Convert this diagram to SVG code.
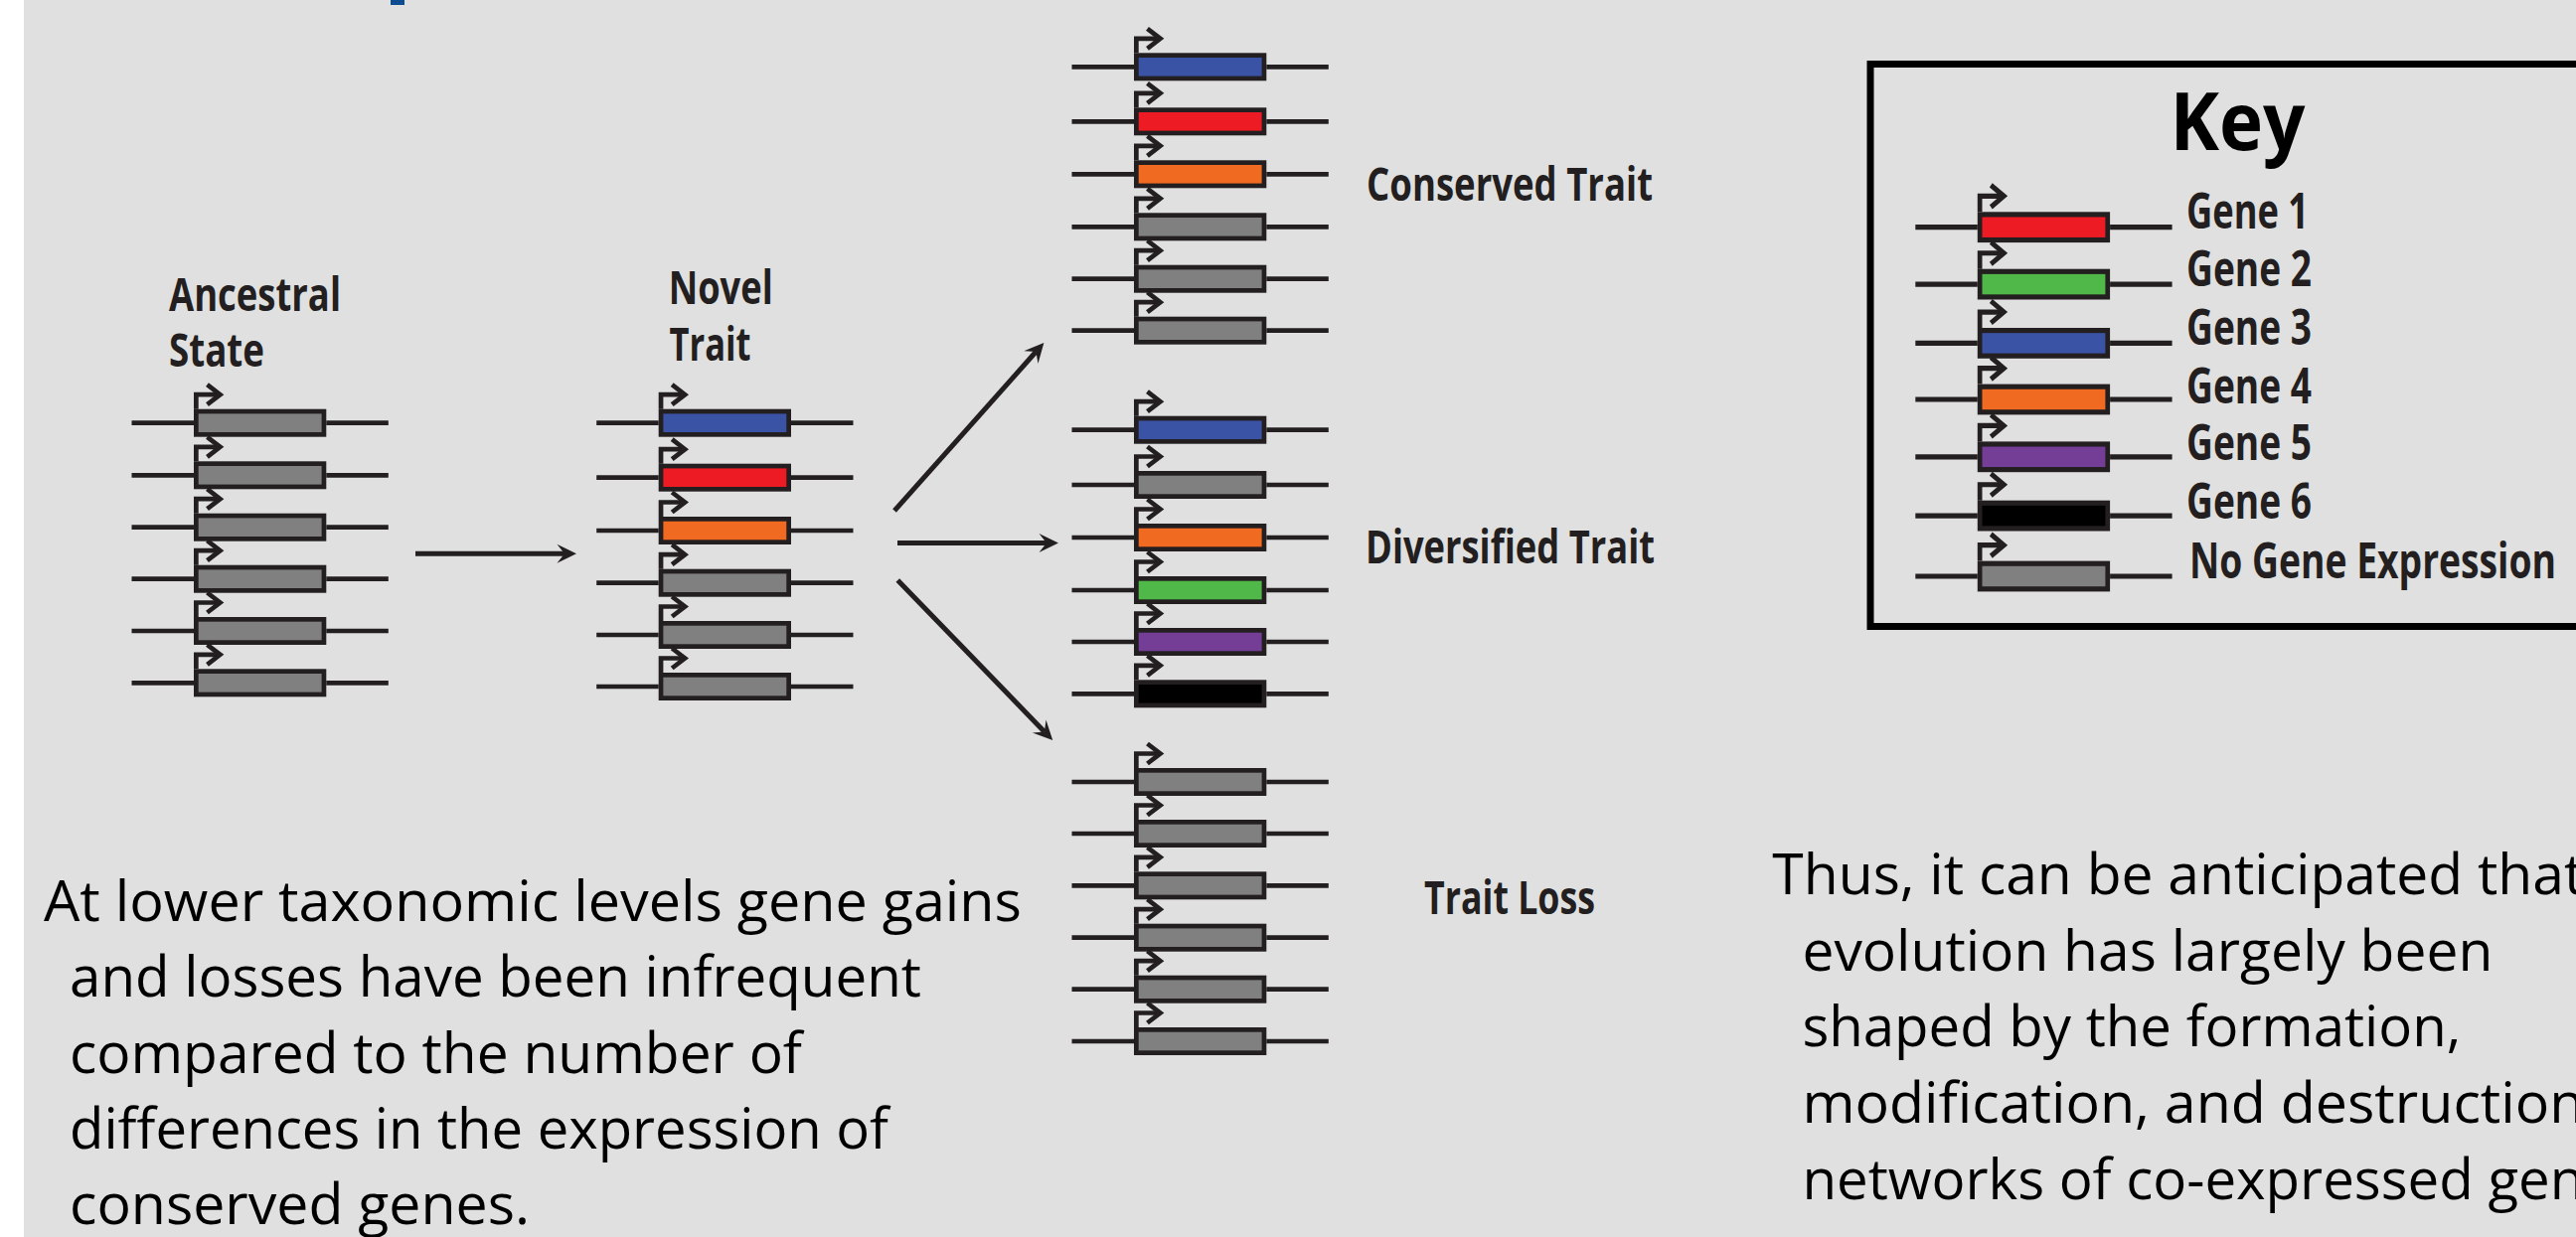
<svg xmlns="http://www.w3.org/2000/svg" xmlns:xlink="http://www.w3.org/1999/xlink" width="2592" height="1245" viewBox="0 0 2592 1245">
  <style>
    .dna { stroke: #231f20; stroke-width: 4.7; fill: none; stroke-linejoin: miter; stroke-linecap: butt; }
    .exon { stroke: #231f20; stroke-width: 4.7; }
    .conn { stroke: #231f20; stroke-width: 5; fill: none; }
    .lbl { font-family: "Open Sans", "Liberation Sans", sans-serif; font-weight: 700; font-size: 46px; fill: #231f20; }
    .keylbl { font-family: "Open Sans", "Liberation Sans", sans-serif; font-weight: 700; font-size: 51px; fill: #231f20; }
    .body { font-family: "Open Sans", "Liberation Sans", sans-serif; font-weight: 400; font-size: 57px; fill: #000; }
  </style>
  <defs>
    <!-- one gene: flanking DNA, coding box (fill set by the use), promoter arrow -->
    <g id="gene">
      <line class="dna" x1="-62.5" y1="0" x2="0" y2="0"/>
      <line class="dna" x1="133.3" y1="0" x2="195.8" y2="0"/>
      <rect class="exon" x="2.35" y="-11.65" width="128.6" height="23.3"/>
      <path class="dna" d="M2.35,-14 V-28.5 H25"/>
      <path class="dna" d="M13.5,-38.5 L26.5,-28.5 L13.5,-18.5"/>
    </g>
    <marker id="head" markerUnits="userSpaceOnUse" viewBox="-20 -10 34 20" markerWidth="34" markerHeight="20" refX="0" refY="0" orient="auto">
      <path d="M12,0 L-7.5,-9.5 L0,0 L-7.5,9.5 Z" fill="#231f20"/>
    </marker>
  </defs>

  <!-- page -->
  <rect x="0" y="0" width="2592" height="1245" fill="#e0e0e0"/>
  <rect x="0" y="0" width="24" height="1245" fill="#ffffff"/>
  <rect x="393" y="0" width="14" height="5" fill="#0e4c92"/>

  <!-- ancestral state -->
  <g id="ancestral">
    <text class="lbl" x="170" y="312.7" textLength="173" lengthAdjust="spacingAndGlyphs">Ancestral</text>
    <text class="lbl" x="170" y="369" textLength="96" lengthAdjust="spacingAndGlyphs">State</text>
    <use href="#gene" x="195" y="425.7" fill="#808080"/>
    <use href="#gene" x="195" y="478.3" fill="#808080"/>
    <use href="#gene" x="195" y="530.7" fill="#808080"/>
    <use href="#gene" x="195" y="582.7" fill="#808080"/>
    <use href="#gene" x="195" y="635" fill="#808080"/>
    <use href="#gene" x="195" y="687.3" fill="#808080"/>
  </g>

  <!-- novel trait -->
  <g id="novel">
    <text class="lbl" x="672.7" y="306" textLength="105" lengthAdjust="spacingAndGlyphs">Novel</text>
    <text class="lbl" x="673.5" y="363.3" textLength="82" lengthAdjust="spacingAndGlyphs">Trait</text>
    <use href="#gene" x="662.7" y="425.7" fill="#3a53a4"/>
    <use href="#gene" x="662.7" y="480.7" fill="#ed1c24"/>
    <use href="#gene" x="662.7" y="534" fill="#f06a22"/>
    <use href="#gene" x="662.7" y="586.7" fill="#808080"/>
    <use href="#gene" x="662.7" y="639" fill="#808080"/>
    <use href="#gene" x="662.7" y="691" fill="#808080"/>
  </g>

  <!-- conserved trait -->
  <g id="conserved">
    <use href="#gene" x="1141" y="67.3" fill="#3a53a4"/>
    <use href="#gene" x="1141" y="122.3" fill="#ed1c24"/>
    <use href="#gene" x="1141" y="175.3" fill="#f06a22"/>
    <use href="#gene" x="1141" y="228.3" fill="#808080"/>
    <use href="#gene" x="1141" y="280.7" fill="#808080"/>
    <use href="#gene" x="1141" y="332.7" fill="#808080"/>
    <text class="lbl" x="1375" y="201.7" textLength="288" lengthAdjust="spacingAndGlyphs">Conserved Trait</text>
  </g>

  <!-- diversified trait -->
  <g id="diversified">
    <use href="#gene" x="1141" y="432.7" fill="#3a53a4"/>
    <use href="#gene" x="1141" y="488" fill="#808080"/>
    <use href="#gene" x="1141" y="541" fill="#f06a22"/>
    <use href="#gene" x="1141" y="594" fill="#50b848"/>
    <use href="#gene" x="1141" y="646" fill="#743e96"/>
    <use href="#gene" x="1141" y="698.3" fill="#000000"/>
    <text class="lbl" x="1374" y="566.7" textLength="291" lengthAdjust="spacingAndGlyphs">Diversified Trait</text>
  </g>

  <!-- trait loss -->
  <g id="loss">
    <use href="#gene" x="1141" y="787" fill="#808080"/>
    <use href="#gene" x="1141" y="839" fill="#808080"/>
    <use href="#gene" x="1141" y="891.3" fill="#808080"/>
    <use href="#gene" x="1141" y="943.7" fill="#808080"/>
    <use href="#gene" x="1141" y="995.7" fill="#808080"/>
    <use href="#gene" x="1141" y="1048" fill="#808080"/>
    <text class="lbl" x="1433" y="920" textLength="172" lengthAdjust="spacingAndGlyphs">Trait Loss</text>
  </g>

  <!-- legend -->
  <g id="key">
    <rect x="1882" y="64.5" width="760" height="566" fill="none" stroke="#000" stroke-width="7"/>
    <text x="2183.5" y="151" font-family="'Open Sans', 'Liberation Sans', sans-serif" font-weight="700" font-size="81" fill="#000" textLength="136" lengthAdjust="spacingAndGlyphs">Key</text>
    <use href="#gene" transform="translate(1989.8,228.7) scale(1,1.1)" fill="#ed1c24"/>
    <use href="#gene" transform="translate(1989.8,286.1) scale(1,1.1)" fill="#50b848"/>
    <use href="#gene" transform="translate(1989.8,345.4) scale(1,1.1)" fill="#3a53a4"/>
    <use href="#gene" transform="translate(1989.8,402) scale(1,1.1)" fill="#f06a22"/>
    <use href="#gene" transform="translate(1989.8,459.8) scale(1,1.1)" fill="#743e96"/>
    <use href="#gene" transform="translate(1989.8,519.1) scale(1,1.1)" fill="#000000"/>
    <use href="#gene" transform="translate(1989.8,580) scale(1,1.1)" fill="#808080"/>
    <text class="keylbl" x="2200" y="229.5" textLength="123" lengthAdjust="spacingAndGlyphs">Gene 1</text>
    <text class="keylbl" x="2200" y="288" textLength="126" lengthAdjust="spacingAndGlyphs">Gene 2</text>
    <text class="keylbl" x="2200" y="346.5" textLength="126" lengthAdjust="spacingAndGlyphs">Gene 3</text>
    <text class="keylbl" x="2200" y="405.5" textLength="126" lengthAdjust="spacingAndGlyphs">Gene 4</text>
    <text class="keylbl" x="2200" y="463" textLength="126" lengthAdjust="spacingAndGlyphs">Gene 5</text>
    <text class="keylbl" x="2200" y="522" textLength="126" lengthAdjust="spacingAndGlyphs">Gene 6</text>
    <text class="keylbl" x="2203" y="581.5" textLength="369" lengthAdjust="spacingAndGlyphs">No Gene Expression</text>
  </g>

  <!-- transitions between states -->
  <g id="connectors">
    <line class="conn" x1="418" y1="557.3" x2="568" y2="557.3" marker-end="url(#head)"/>
    <line class="conn" x1="900" y1="514" x2="1042.4" y2="354" marker-end="url(#head)"/>
    <line class="conn" x1="903" y1="546.5" x2="1053" y2="546.5" marker-end="url(#head)"/>
    <line class="conn" x1="903.3" y1="584" x2="1050.9" y2="736.4" marker-end="url(#head)"/>
  </g>

  <!-- notes -->
  <g id="note-left">
    <text class="body" x="44" y="926.7" textLength="984" lengthAdjust="spacingAndGlyphs">At lower taxonomic levels gene gains</text>
    <text class="body" x="70" y="1003.2" textLength="857" lengthAdjust="spacingAndGlyphs">and losses have been infrequent</text>
    <text class="body" x="70" y="1079.7" textLength="737" lengthAdjust="spacingAndGlyphs">compared to the number of</text>
    <text class="body" x="70" y="1156.2" textLength="824" lengthAdjust="spacingAndGlyphs">differences in the expression of</text>
    <text class="body" x="70" y="1232.2" textLength="463" lengthAdjust="spacingAndGlyphs">conserved genes.</text>
  </g>
  <g id="note-right">
    <text class="body" x="1783.3" y="900" textLength="817" lengthAdjust="spacingAndGlyphs">Thus, it can be anticipated that</text>
    <text class="body" x="1813.4" y="976.7" textLength="695" lengthAdjust="spacingAndGlyphs">evolution has largely been</text>
    <text class="body" x="1813.4" y="1053.3" textLength="663" lengthAdjust="spacingAndGlyphs">shaped by the formation,</text>
    <text class="body" x="1813.4" y="1130" textLength="787" lengthAdjust="spacingAndGlyphs">modification, and destruction</text>
    <text class="body" x="1813.4" y="1206.7" textLength="787" lengthAdjust="spacingAndGlyphs">networks of co-expressed gen</text>
  </g>
</svg>
